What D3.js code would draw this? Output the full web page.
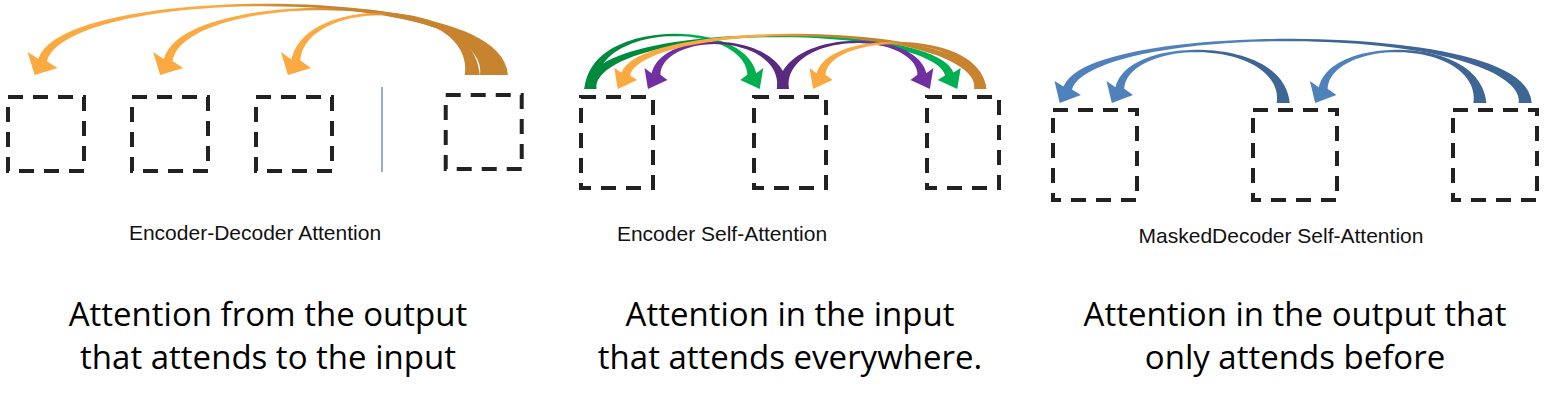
<!DOCTYPE html>
<html><head><meta charset="utf-8">
<script src="https://cdn.jsdelivr.net/npm/d3@7"></script>
<style>body{margin:0;background:#fff}</style>
</head><body><div id="chart"></div>
<script>
// panel titles and captions
const titles = ["Encoder-Decoder Attention", "Encoder Self-Attention", "MaskedDecoder Self-Attention"];
const captions = [
  ["Attention from the output", "that attends to the input"],
  ["Attention in the input", "that attends everywhere."],
  ["Attention in the output that", "only attends before"]
];
// box slots per panel (slot index on each panel's own x scale)
const boxes1 = [0, 1, 2, 3.53];
const boxes2 = [0, 1, 2];
const boxes3 = [0, 1, 2];
// arrows: [from box, to box, source offset, tip offset, peak]
const arrows1 = [[3, 0, 0.22, -0.15, 7], [3, 1, 0.05, -0.13, 11], [3, 2, -0.15, -0.08, 16]];
const arrows2 = [[0, 1, -0.37, -0.42, 37], [0, 2, -0.37, -0.08, 38], [1, 0, -0.1, 0.43, 45], [1, 2, -0.1, -0.46, 44],
                 [2, 0, 0.24, 0.01, 37], [2, 1, 0.24, 0.32, 45]];
const arrows3 = [[1, 0, -0.14, 0.2, 53], [2, 1, -0.18, 0.24, 53], [2, 0, 0.36, -0.42, 42]];
const colors2 = [["#008A3E", "#00B050"], ["#592A7F", "#7030A0"], ["#C8832F", "#FBA941"]];

const W = 1545, H = 404;
const svg = d3.select("#chart").append("svg").attr("width", W).attr("height", H);
const defs = svg.append("defs");

const panels = [
  {boxes: boxes1, arrows: arrows1, x: d3.scaleLinear().domain([0, 1]).range([46, 170]), bw: 76, bh: 74, by: 97, y0: 75,
   hw: 34, ws: 15, col: () => ["#C8832F", "#FBA941"], tx: 255, ty: 240, cx: 268},
  {boxes: boxes2, arrows: arrows2, x: d3.scaleLinear().domain([0, 1]).range([617, 790]), bw: 72, bh: 91, by: 97, y0: 89,
   hw: 26, ws: 12, col: a => colors2[a[0]], tx: 722, ty: 241, cx: 790},
  {boxes: boxes3, arrows: arrows3, x: d3.scaleLinear().domain([0, 1]).range([1095, 1295]), bw: 84, bh: 90, by: 110, y0: 103,
   hw: 30, ws: 13, col: () => ["#3D6695", "#4F81BD"], tx: 1281, ty: 243, cx: 1295}
];

// separator line in panel 1
svg.append("line").attr("x1", 382).attr("x2", 382).attr("y1", 87).attr("y2", 172)
  .attr("stroke", "#7393C4").attr("stroke-width", 1.5);

let gid = 0;
function arrowPath(sx, tx, y0, pk, ws, hw) {
  const hl = 17, wmin = 1.2, wh = 9;
  const s = sx > tx ? 1 : -1;
  // head base sits up and to the source side of the tip, so heads lean diagonally
  const hx = tx + s * 8, hy = y0 - hl + 2;
  const cy = y0 - (y0 - pk) * 4 / 3;
  const p = [[sx, y0], [sx, cy], [hx + (sx - hx) * 0.05, cy], [hx, hy]];
  const bez = t => {
    const u = 1 - t;
    return [0, 1].map(k => u*u*u*p[0][k] + 3*u*u*t*p[1][k] + 3*u*t*t*p[2][k] + t*t*t*p[3][k]);
  };
  const der = t => {
    const u = 1 - t;
    return [0, 1].map(k => 3*u*u*(p[1][k]-p[0][k]) + 6*u*t*(p[2][k]-p[1][k]) + 3*t*t*(p[3][k]-p[2][k]));
  };
  const L = [], R = [];
  d3.range(0, 1.0001, 0.02).forEach(t => {
    const [x, y] = bez(t), [dx, dy] = der(t), n = Math.hypot(dx, dy) || 1;
    const w = (wmin + (ws - wmin) * Math.pow(1 - t, 4) + (wh - wmin) * Math.pow(t, 4)) / 2;
    L.push([x - dy / n * w, y + dx / n * w]);
    R.push([x + dy / n * w, y - dx / n * w]);
  });
  // head oriented from base towards the tip
  const ux0 = tx - hx, uy0 = y0 - hy, n = Math.hypot(ux0, uy0);
  const ux = ux0 / n, uy = uy0 / n;
  const h1 = [hx - uy * hw / 2, hy + ux * hw / 2], h2 = [hx + uy * hw / 2, hy - ux * hw / 2];
  const pts = L.concat([h1, [tx, y0], h2], R.reverse());
  return d3.line()(pts) + "Z";
}

panels.forEach((P, pi) => {
  const g = svg.append("g");
  P.arrows.forEach(a => {
    const sx = P.x(P.boxes[a[0]]) + a[2] * P.bw, tx = P.x(P.boxes[a[1]]) + a[3] * P.bw;
    const [c0, c1] = P.col(a);
    const id = "gr" + (gid++);
    const lg = defs.append("linearGradient").attr("id", id).attr("gradientUnits", "userSpaceOnUse")
      .attr("x1", sx).attr("x2", tx).attr("y1", 0).attr("y2", 0);
    lg.append("stop").attr("offset", 0).attr("stop-color", c0);
    lg.append("stop").attr("offset", 0.45).attr("stop-color", c0);
    lg.append("stop").attr("offset", 0.6).attr("stop-color", c1);
    lg.append("stop").attr("offset", 1).attr("stop-color", c1);
    g.append("path").attr("d", arrowPath(sx, tx, P.y0, a[4], P.ws, P.hw))
      .attr("fill", `url(#${id})`);
  });
  g.selectAll("rect").data(P.boxes).join("rect")
    .attr("x", d => P.x(d) - P.bw / 2).attr("y", (d, i) => P.by - (pi === 0 && i === 3 ? 2 : 0))
    .attr("width", P.bw).attr("height", P.bh)
    .attr("fill", "none").attr("stroke", "#222").attr("stroke-width", 4)
    .attr("stroke-dasharray", "15 10");
  g.append("text").attr("x", P.tx).attr("y", P.ty).attr("text-anchor", "middle")
    .attr("font-family", "Liberation Sans, Arial, sans-serif").attr("font-size", 21).attr("fill", "#111")
    .text(titles[pi]);
  captions[pi].forEach((c, i) => {
    g.append("text").attr("x", P.cx).attr("y", 326 + i * 43).attr("text-anchor", "middle")
      .attr("font-family", "Open Sans, sans-serif").attr("font-size", 33).attr("fill", "#000").text(c);
  });
});
</script></body></html>
